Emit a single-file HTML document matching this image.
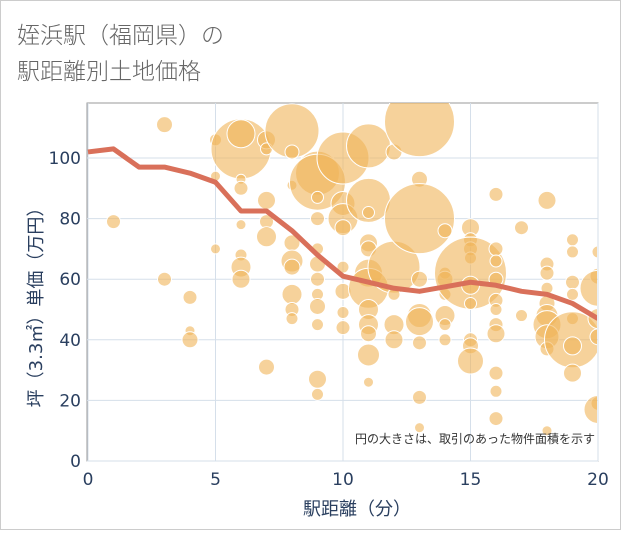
<!DOCTYPE html>
<html><head><meta charset="utf-8"><style>
body{margin:0;background:#fff;font-family:"DejaVu Sans","Noto Sans CJK JP",sans-serif}
#wrap{position:relative;width:619px;height:528px;border:1px solid #ccc;background:#fff}
</style></head><body>
<div id="wrap">
<svg id="chart" width="619" height="528" xmlns="http://www.w3.org/2000/svg">
<text x="16" y="42" font-size="23" fill="#666" font-family="Noto Sans CJK JP, sans-serif" font-weight="300">姪浜駅（福岡県）の</text>
<text x="16" y="78" font-size="23" fill="#666" font-family="Noto Sans CJK JP, sans-serif" font-weight="300">駅距離別土地価格</text>
<defs><clipPath id="pc"><rect x="86" y="102" width="510" height="357"/></clipPath></defs>
<g id="grid"></g>
<g id="bubbles" clip-path="url(#pc)"></g>
<g id="line" clip-path="url(#pc)"></g>
<g id="axes"></g>
<text x="594" y="442" font-size="12" fill="#333" text-anchor="end" font-family="DejaVu Sans, Noto Sans CJK JP, sans-serif">円の大きさは、取引のあった物件面積を示す</text>
<text x="356" y="514" font-size="18" fill="#2a3f5f" text-anchor="middle" font-family="DejaVu Sans, Noto Sans CJK JP, sans-serif">駅距離（分）</text>
<text transform="translate(41,302) rotate(-90)" font-size="18" fill="#2a3f5f" text-anchor="middle" font-family="DejaVu Sans, Noto Sans CJK JP, sans-serif">坪（3.3㎡）単価（万円）</text>
</svg></div>
<script>
const xTicks=[0,5,10,15,20];
const yTicks=[0,20,40,60,80,100];
const lineX=[0,1,2,3,4,5,6,7,8,9,10,11,12,13,14,15,16,17,18,19,20];
const lineY=[102,103,97,97,95,92,82.5,82.5,76,68,61,59,57,56,57.5,59,58,56,55,52,47];
const bubbleX=[1,3,3,4,4,4,5,5,5,6,6,6,6,6,6,6,6,7,7,7,7,7,7,8,8,8,8,8,8,8,8,8,9,9,9,9,9,9,9,9,9,9,9,9,10,10,10,10,10,10,10,10,11,11,11,11,11,11,11,11,11,11,11,11,12,12,12,12,12,13,13,13,13,13,13,13,13,13,14,14,14,14,14,14,14,15,15,15,15,15,15,15,15,15,15,16,16,16,16,16,16,16,16,16,16,16,17,17,18,18,18,18,18,18,18,18,18,18,19,19,19,19,19,19,19,19,20,20,20,20,20,20,20];
const bubbleY=[79,111,60,54,43,40,106,94,70,103,108,93,90,78,68,64,60,106,103,86,79,74,31,109,102,91,72,66,64,55,50,47,95,92,87,80,70,65,60,55,51,45,27,22,100,85,80,77,64,56,49,44,104,86,82,72,70,62,57,50,45,42,35,26,102,64,55,45,40,112,93,80,60,48,46,39,21,11,76,62,60,55,48,45,40,77,73,70,67,62,58,52,40,38,33,88,70,66,60,53,50,45,42,29,23,14,77,48,86,65,62,57,52,48,45,41,37,10,73,69,59,55,47,40,38,29,69,61,57,47,41,19,17];
const bubbleSize=[7,8,7,7,5,8,6,5,5,30,14,5,7,5,6,10,9,9,6,9,7,10,8,27,7,5,8,11,8,10,7,6,22,28,6,7,6,8,7,6,8,6,9,6,26,12,15,8,6,8,6,7,22,22,6,9,8,14,20,10,10,8,11,5,8,26,6,10,9,35,8,35,8,12,14,7,7,5,7,6,8,6,10,6,6,9,7,7,6,36,9,6,7,8,13,7,7,6,7,7,6,7,9,7,6,7,7,6,9,7,7,6,8,11,14,12,7,5,6,6,7,6,6,28,9,9,6,8,18,10,8,7,14];
const NS='http://www.w3.org/2000/svg';
const X0=87,X1=597,Y0=460,YPER=3.03;
function sx(v){return X0+(X1-X0)*v/20;}
function sy(v){return Y0-v*YPER;}
const grid=document.getElementById('grid'),axes=document.getElementById('axes');
const bg=document.createElementNS(NS,'rect');
bg.setAttribute('x',86);bg.setAttribute('y',102);bg.setAttribute('width',511);bg.setAttribute('height',358);bg.setAttribute('fill','#fff');bg.setAttribute('stroke','#999');


grid.appendChild(bg);
xTicks.forEach(t=>{
 const l=document.createElementNS(NS,'line');
 l.setAttribute('x1',sx(t));l.setAttribute('x2',sx(t));l.setAttribute('y1',102);l.setAttribute('y2',460);l.setAttribute('stroke','#d5dfea');
 
 
 grid.appendChild(l);
 const tx=document.createElementNS(NS,'text');
 tx.setAttribute('x',sx(t));tx.setAttribute('y',484);tx.setAttribute('font-size',17);tx.setAttribute('fill','#2a3f5f');tx.setAttribute('text-anchor','middle');
 tx.textContent=t;
 
 
 axes.appendChild(tx);
});
yTicks.forEach(t=>{
 const l=document.createElementNS(NS,'line');
 l.setAttribute('x1',86);l.setAttribute('x2',597);l.setAttribute('y1',sy(t));l.setAttribute('y2',sy(t));l.setAttribute('stroke','#d5dfea');
 
 
 grid.appendChild(l);
 const tx=document.createElementNS(NS,'text');
 tx.setAttribute('x',80);tx.setAttribute('y',sy(t)+6);tx.setAttribute('font-size',17);tx.setAttribute('fill','#2a3f5f');tx.setAttribute('text-anchor','end');
 tx.textContent=t;
 
 
 axes.appendChild(tx);
});
const bub=document.getElementById('bubbles');
bubbleX.forEach((x,i)=>{
 const c=document.createElementNS(NS,'circle');
 c.setAttribute('cx',sx(x));c.setAttribute('cy',sy(bubbleY[i]));c.setAttribute('r',bubbleSize[i]);
 c.setAttribute('fill','#f0b459');c.setAttribute('fill-opacity','0.6');c.setAttribute('stroke','#fff');c.setAttribute('stroke-width','1');
 
 
 bub.appendChild(c);
});
const p=document.createElementNS(NS,'polyline');
p.setAttribute('points',lineX.map((x,i)=>sx(x)+','+sy(lineY[i])).join(' '));
p.setAttribute('fill','none');p.setAttribute('stroke','#d9705a');p.setAttribute('stroke-width','5');p.setAttribute('stroke-linejoin','round');


document.getElementById('line').appendChild(p);
</script>
</body></html>
